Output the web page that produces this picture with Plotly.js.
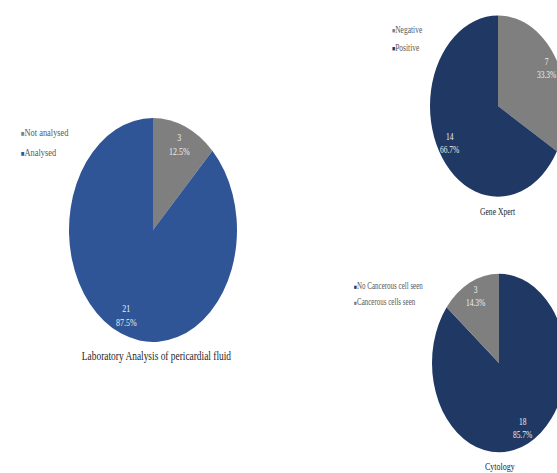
<!DOCTYPE html>
<html>
<head>
<meta charset="utf-8">
<script src="https://cdn.plot.ly/plotly-3.0.1.min.js"></script>
<style>
  html, body { margin: 0; padding: 0; background: #ffffff; width: 557px; height: 473px; overflow: hidden; }
  #wrap { width: 600px; height: 380px; transform: scaleY(1.3324); transform-origin: 0 0; }
  #chart { width: 600px; height: 380px; }
</style>
</head>
<body>
<div id="wrap"><div id="chart"></div></div>
<script>
// ---- Data ----
const labLabels = ['Not analysed', 'Analysed'];
const labValues = [3, 21];
const labColors = ['#7f7f7f', '#2f5597'];

const geneLabels = ['Negative', 'Positive'];
const geneValues = [7, 14];
const geneColors = ['#7f7f7f', '#1f3864'];

const cytoLabels = ['No Cancerous cell seen', 'Cancerous cells seen'];
const cytoValues = [18, 3];
const cytoColors = ['#1f3864', '#7f7f7f'];

const chartTitles = ['Laboratory Analysis of pericardial fluid', 'Gene Xpert', 'Cytology'];

// ---- Layout helpers (pre-scale pixel space 600 x 380) ----
const W = 600, H = 380;
const px = x => x / W;
const py = y => 1 - y / H;

const FONT = '"Liberation Serif", "Times New Roman", serif';

// pie geometry: [centerX, centerY, radius] in pre-scale pixels
const pies = [
  { labels: labLabels, values: labValues, colors: labColors, c: [153, 172.6], r: 84 },
  { labels: geneLabels, values: geneValues, colors: geneColors, c: [498, 79.6], r: 68 },
  { labels: cytoLabels, values: cytoValues, colors: cytoColors, c: [499, 272.4], r: 67 }
];

const traces = pies.map(p => ({
  type: 'pie',
  labels: p.labels,
  values: p.values,
  sort: false,
  direction: 'clockwise',
  rotation: 0,
  marker: { colors: p.colors, line: { width: 0 } },
  textinfo: 'none',
  showlegend: false,
  hoverinfo: 'skip',
  domain: { x: [px(p.c[0] - p.r), px(p.c[0] + p.r)], y: [py(p.c[1] + p.r), py(p.c[1] - p.r)] }
}));

const annotations = [];

// slice data labels (value + percent), placed along each slice's mid-angle
const labelSizes = [8, 7.5, 7.5];
pies.forEach((p, k) => {
  const total = p.values.reduce((a, b) => a + b, 0);
  let cum = 0;
  p.values.forEach(v => {
    const mid = (cum + v / 2) / total * 2 * Math.PI;
    cum += v;
    const rr = 0.82 * p.r;
    annotations.push({
      text: v + '<br>' + (100 * v / total).toFixed(1) + '%',
      xref: 'paper', yref: 'paper',
      x: px(p.c[0] + rr * Math.sin(mid)), y: py(p.c[1] - rr * Math.cos(mid)),
      xanchor: 'center', yanchor: 'middle', align: 'center', showarrow: false,
      font: { family: FONT, size: labelSizes[k], color: '#eeeeee' }
    });
  });
});

// titles
const titlePos = [[156, 267.2], [498, 158.4], [500, 350.3]];
const titleSizes = [9.4, 7.6, 8];
chartTitles.forEach((t, i) => annotations.push({
  text: t, xref: 'paper', yref: 'paper',
  x: px(titlePos[i][0]), y: py(titlePos[i][1]),
  xanchor: 'center', yanchor: 'middle', showarrow: false,
  font: { family: FONT, size: titleSizes[i], color: '#262626' }
}));

// legend-like keys
function legendRows(labels, colors, x0, ys, size) {
  labels.forEach((lab, i) => {
    annotations.push({
      text: '<span style="color:' + colors[i] + ';font-size:' + (size * 0.7) + 'px">■</span><span style="color:#595959">' + lab + '</span>',
      xref: 'paper', yref: 'paper', x: px(x0), y: py(ys[i]),
      xanchor: 'left', yanchor: 'middle', showarrow: false,
      font: { family: FONT, size: size, color: '#595959' }
    });
  });
}
legendRows(labLabels, labColors, 19, [99.8, 114.1], 8.4);
legendRows(geneLabels, geneColors, 390, [22.5, 35.3], 7.5);
legendRows(cytoLabels, cytoColors, 352, [215.4, 227.4], 7);

const layout = {
  width: W, height: H,
  margin: { l: 0, r: 0, t: 0, b: 0 },
  paper_bgcolor: '#ffffff',
  plot_bgcolor: '#ffffff',
  showlegend: false,
  annotations: annotations,
  font: { family: FONT }
};

Plotly.newPlot('chart', traces, layout, { staticPlot: true, displayModeBar: false });
</script>
</body>
</html>
